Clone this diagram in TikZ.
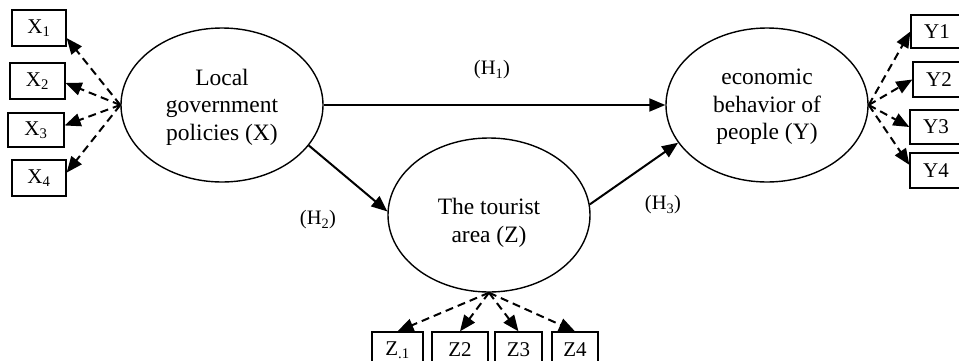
\documentclass[tikz,border=0pt]{standalone}
\usepackage{fontspec}
\setmainfont{Liberation Serif}
\usetikzlibrary{arrows.meta,shapes.geometric}
\begin{document}
\begin{tikzpicture}[x=1pt,y=-1pt,
  latent/.style={draw,ellipse,line width=1.4pt,minimum width=202pt,minimum height=154pt,inner sep=0pt},
  latenttext/.style={align=center,inner sep=0pt,font=\fontsize{23.5}{27.5}\selectfont},
  ind/.style={draw,rectangle,line width=1.3pt,inner sep=0pt,font=\fontsize{21}{23}\selectfont},
  causal/.style={line width=2pt,-{Triangle[length=16pt,width=13pt]}},
  loadarrow/.style={line width=2pt,dash pattern=on 8pt off 5pt,-{Triangle[length=16pt,width=13pt]}},
  hyp/.style={font=\fontsize{20.5}{22}\selectfont}]
\useasboundingbox (0,0) rectangle (959,360);
\fill[white] (0,0) rectangle (959,360);

% latent variables
\node[latent] (X) at (222,105) {};
\node[latent] (Y) at (767,105) {};
\node[latent] (Z) at (489,215) {};
\node[latenttext] (Xt) at (222,107) {Local\\government\\policies (X)};
\node[latenttext] (Yt) at (767,107) {economic\\behavior of\\people (Y)};
\node[latenttext] (Zt) at (489,223) {The tourist\\area (Z)};

% indicators of X
\node[ind,minimum width=54pt,minimum height=36pt] (X1) at (39,28) {X\textsubscript{1}};
\node[ind,minimum width=55pt,minimum height=36pt] (X2) at (37.5,81) {X\textsubscript{2}};
\node[ind,minimum width=56pt,minimum height=34pt] (X3) at (36,130) {X\textsubscript{3}};
\node[ind,minimum width=54pt,minimum height=36pt] (X4) at (39,178) {X\textsubscript{4}};

% indicators of Y
\node[ind,minimum width=52pt,minimum height=33pt] (Y1) at (937,31.5) {Y1};
\node[ind,minimum width=52pt,minimum height=35pt] (Y2) at (939,79.5) {Y2};
\node[ind,minimum width=52pt,minimum height=34pt] (Y3) at (936,127) {Y3};
\node[ind,minimum width=52pt,minimum height=35pt] (Y4) at (936,170.5) {Y4};

% indicators of Z
\node[ind,minimum width=51pt,minimum height=36pt] (Z1) at (397.5,350) {Z\textsubscript{.1}};
\node[ind,minimum width=56pt,minimum height=36pt] (Z2) at (460,350) {Z2};
\node[ind,minimum width=47pt,minimum height=36pt] (Z3) at (518.5,350) {Z3};
\node[ind,minimum width=46pt,minimum height=36pt] (Z4) at (575,350) {Z4};

% structural paths
\draw[causal] (X.east) -- (Y.west);
\draw[causal] (X.-25) -- (Z.178);
\draw[causal] (Z.6) -- (Y.203);

% loadings
\draw[loadarrow] (X.west) -- (X1.-20);
\draw[loadarrow] (X.west) -- (X2.-4);
\draw[loadarrow] (X.west) -- (X3.9);
\draw[loadarrow] (X.west) -- (X4.11);

\draw[loadarrow] (Y.east) -- (Y1.west);
\draw[loadarrow] (Y.east) -- (Y2.west);
\draw[loadarrow] (Y.east) -- (Y3.west);
\draw[loadarrow] (Y.east) -- (Y4.168);

\draw[loadarrow] (Z.south) -- (Z1.north);
\draw[loadarrow] (Z.south) -- (Z2.north);
\draw[loadarrow] (Z.south) -- (Z3.north);
\draw[loadarrow] (Z.south) -- (Z4.north);

% hypothesis labels
\node[hyp] (H1) at (492,70) {(H\textsubscript{1})};
\node[hyp] (H2) at (318,220) {(H\textsubscript{2})};
\node[hyp] (H3) at (663,205) {(H\textsubscript{3})};
\end{tikzpicture}
\end{document}
